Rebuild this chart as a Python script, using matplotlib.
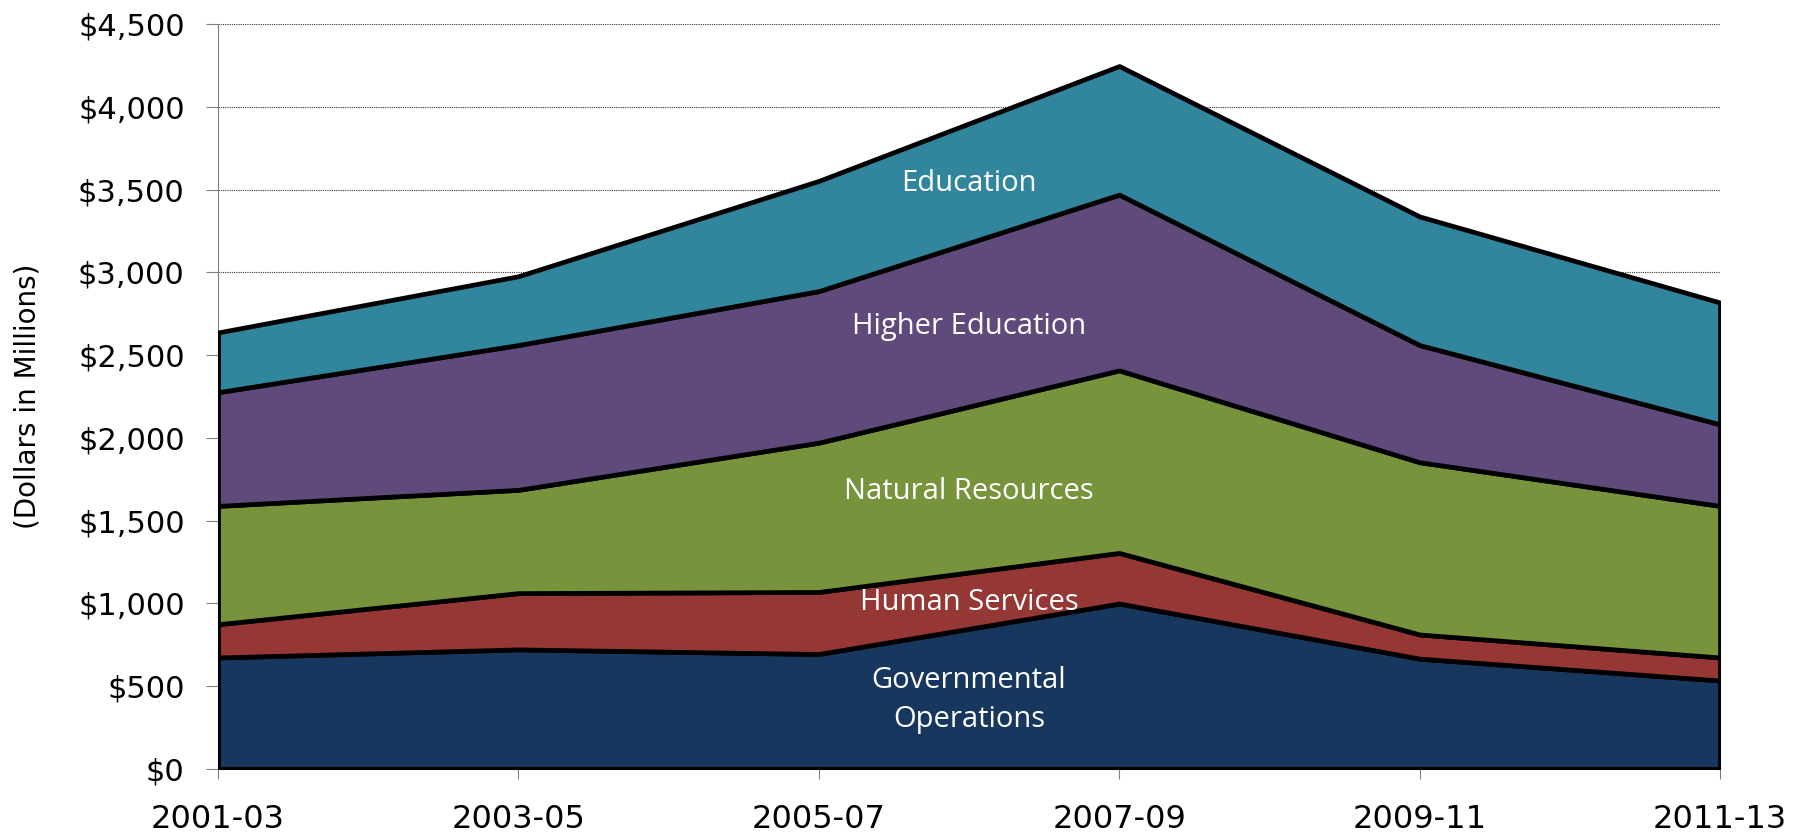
import matplotlib
matplotlib.use("Agg")
import matplotlib.pyplot as plt
import numpy as np

# biennium labels and spending by area (dollars in millions)
periods = ['2001-03', '2003-05', '2005-07', '2007-09', '2009-11', '2011-13']
gov_ops = [673, 722, 694, 999, 666, 534]
human_services = [201, 340, 375, 306, 146, 139]
natural_resources = [715, 624, 902, 1103, 1041, 916]
higher_ed = [687, 875, 916, 1062, 708, 493]
education = [361, 416, 666, 777, 777, 736]

colors = ['#17375E', '#953735', '#77933C', '#604A7B', '#31859C']

fig = plt.figure(figsize=(18.02, 8.33), dpi=100)
ax = fig.add_axes([0.121, 0.077, 0.8335, 0.894])

x = np.arange(len(periods))
ax.stackplot(x, gov_ops, human_services, natural_resources, higher_ed, education,
             colors=colors, edgecolor='black', linewidth=3.4, zorder=3)

ax.set_xlim(0, len(periods) - 1)
ax.set_ylim(0, 4500)
ax.set_yticks(np.arange(0, 4501, 500))
ax.set_yticklabels(['${:,}'.format(v) for v in range(0, 4501, 500)])
ax.set_xticks(x)
ax.set_xticklabels(periods)
ax.yaxis.grid(True, linestyle=(0, (1, 1)), color='#333333', linewidth=0.8, zorder=0)
ax.set_axisbelow(True)

for s in ['top', 'right']:
    ax.spines[s].set_visible(False)
ax.spines['left'].set_color('#808080')
ax.spines['bottom'].set_color('#808080')
ax.tick_params(axis='y', direction='out', length=9, color='#808080', labelsize=22, pad=15)
ax.tick_params(axis='x', direction='out', length=7, color='#808080', labelsize=23, pad=18)

ax.set_ylabel('(Dollars in Millions)', fontsize=20, family='Liberation Sans Narrow', labelpad=26)

# area labels
lab = dict(color='white', fontsize=21, family='Open Sans', ha='center', va='center', zorder=5)
ax.text(2.5, 3540, 'Education', **lab)
ax.text(2.5, 2672, 'Higher Education', **lab)
ax.text(2.5, 1679, 'Natural Resources', **lab)
ax.text(2.5, 1006, 'Human Services', **lab)
ax.text(2.5, 416, 'Governmental\nOperations', linespacing=1.45, **lab)

fig.savefig('out.png', dpi=100)
